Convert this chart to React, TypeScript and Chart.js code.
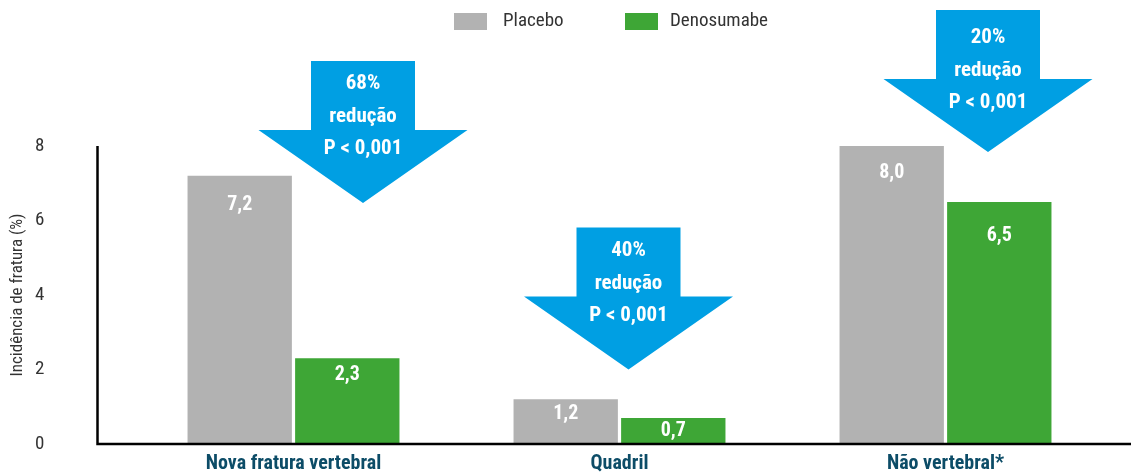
import React, { useEffect, useRef } from "react";
import { Chart, registerables } from "chart.js";

Chart.register(...registerables);

const categories = ["Nova fratura vertebral", "Quadril", "Não vertebral*"];
const placebo = [7.2, 1.2, 8.0];
const denosumabe = [2.3, 0.7, 6.5];
const yTicks = [0, 2, 4, 6, 8];
const reductions = ["68%", "40%", "20%"];
const pValues = ["P < 0,001", "P < 0,001", "P < 0,001"];
const arrowTipValues = [6.47, 2.0, 7.84];

const FONT = "'Liberation Sans Narrow', 'Roboto Condensed', 'Arial Narrow', Roboto, sans-serif";
const GRAY = "#b2b2b2";
const GREEN = "#3ea636";
const BLUE = "#009fe3";
const LABEL_DARK = "#0c4c67";

// style-only layout tweaks
const arrowShift = [69.5, 9, 42.5];
const arrowTextShift = [0, 0, 5];
const valueOffsetsP = [29, 15, 27];
const valueOffsetsD = [17, 13, 34];

const overlayPlugin = {
  id: "overlay",
  afterDatasetsDraw(chart: any) {
    const ctx = chart.ctx;
    const xs = chart.scales.x;
    const ys = chart.scales.y;
    const area = chart.chartArea;
    ctx.save();
    // value labels
    ctx.fillStyle = "#fff";
    ctx.font = `bold 20px ${FONT}`;
    ctx.textAlign = "center";
    ctx.textBaseline = "middle";
    const fmt = (v: number) => v.toFixed(1).replace(".", ",");
    [0, 1].forEach((di) => {
      const meta = chart.getDatasetMeta(di);
      const data = chart.data.datasets[di].data as number[];
      meta.data.forEach((bar: any, i: number) => {
        const off = di === 0 ? valueOffsetsP[i] : valueOffsetsD[i];
        ctx.fillText(fmt(data[i]), bar.x, bar.y + off);
      });
    });

    // axis lines
    ctx.strokeStyle = "#000";
    ctx.lineWidth = 2.5;
    ctx.beginPath();
    ctx.moveTo(97.5, ys.getPixelForValue(8));
    ctx.lineTo(97.5, area.bottom);
    ctx.lineTo(chart.width, area.bottom);
    ctx.stroke();

    // arrows
    categories.forEach((_, i) => {
      const cx = xs.getPixelForValue(i) + arrowShift[i];
      const tipY = ys.getPixelForValue(arrowTipValues[i]);
      const shaftW = 104;
      const headW = 209;
      const headH = 73;
      const shaftH = 69;
      const headTop = tipY - headH;
      const top = headTop - shaftH;
      ctx.fillStyle = BLUE;
      ctx.beginPath();
      ctx.moveTo(cx - shaftW / 2, top);
      ctx.lineTo(cx + shaftW / 2, top);
      ctx.lineTo(cx + shaftW / 2, headTop);
      ctx.lineTo(cx + headW / 2, headTop);
      ctx.lineTo(cx, tipY);
      ctx.lineTo(cx - headW / 2, headTop);
      ctx.lineTo(cx - shaftW / 2, headTop);
      ctx.closePath();
      ctx.fill();
      ctx.fillStyle = "#fff";
      ctx.font = `bold 21px ${FONT}`;
      const t0 = top + 23 + arrowTextShift[i];
      ctx.fillText(reductions[i], cx, t0);
      ctx.fillText("redução", cx, t0 + 33);
      ctx.fillText(pValues[i], cx, t0 + 65);
    });

    // legend
    const items = [
      { label: "Placebo", color: GRAY, x: 454, tx: 503 },
      { label: "Denosumabe", color: GREEN, x: 625, tx: 670 },
    ];
    ctx.font = `19px ${FONT}`;
    ctx.textAlign = "left";
    items.forEach((it) => {
      ctx.fillStyle = it.color;
      ctx.fillRect(it.x, 13, 33, 17);
      ctx.fillStyle = "#333";
      ctx.fillText(it.label, it.tx, 21.5);
    });
    ctx.restore();
  },
};

export default function App() {
  const ref = useRef<HTMLCanvasElement>(null);
  useEffect(() => {
    if (!ref.current) return;
    const chart = new Chart(ref.current, {
      type: "bar",
      data: {
        labels: categories,
        datasets: [
          { label: "Placebo", data: placebo, backgroundColor: GRAY, categoryPercentage: 0.66, barPercentage: 0.97 },
          { label: "Denosumabe", data: denosumabe, backgroundColor: GREEN, categoryPercentage: 0.66, barPercentage: 0.97 },
        ],
      },
      options: {
        animation: false,
        responsive: true,
        maintainAspectRatio: false,
        layout: { padding: { top: 146, right: 22.5, bottom: 0, left: 0 } },
        plugins: { legend: { display: false }, tooltip: { enabled: false } },
        scales: {
          x: {
            grid: { display: false, drawTicks: false },
            border: { display: false },
            ticks: { color: LABEL_DARK, font: { family: FONT, size: 20, weight: "bold" }, padding: 8 },
            afterFit: (s: any) => { s.height = 30; },
          },
          y: {
            min: 0,
            max: 8,
            grid: { display: false, drawTicks: false },
            border: { display: false },
            afterBuildTicks: (s: any) => { s.ticks = yTicks.map((v) => ({ value: v })); },
            ticks: { color: "#333", font: { family: FONT, size: 19 }, padding: 86 },
            title: { display: true, text: "Incidência de fratura (%)", color: "#333", font: { family: FONT, size: 17 }, padding: { top: 8, bottom: 0 } },
            afterFit: (s: any) => { s.width = 130.5; s.paddingTop = 0; s.paddingBottom = 0; },
          },
        },
      },
      plugins: [overlayPlugin],
    });
    return () => chart.destroy();
  }, []);
  return (
    <div style={{ position: "absolute", left: 0, top: 0, width: 1131, height: 474, background: "#fff" }}>
      <canvas ref={ref} />
    </div>
  );
}
